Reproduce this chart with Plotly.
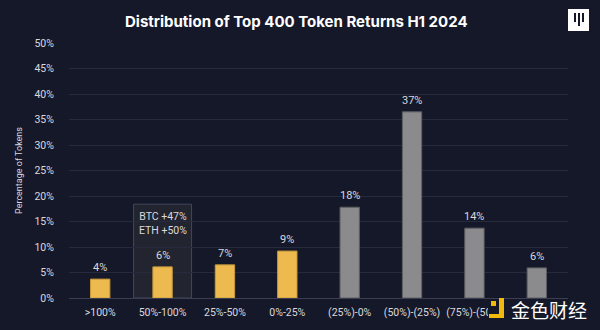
import plotly.graph_objects as go

categories = [">100%", "50%-100%", "25%-50%", "0%-25%",
              "(25%)-0%", "(50%)-(25%)", "(75%)-(50%)", "(100%)-(75%)"]
# the last category label is hidden under the watermark in the reference
x_tick_text = [">100%", "50%-100%", "25%-50%", "0%-25%",
               "(25%)-0%", "(50%)-(25%)", "(75%)-(50%)", ""]
values = [3.7, 6.1, 6.5, 9.2, 17.8, 36.5, 13.7, 5.9]
labels = ["4%", "6%", "7%", "9%", "18%", "37%", "14%", "6%"]
positive = [True, True, True, True, False, False, False, False]
y_ticks = [0, 5, 10, 15, 20, 25, 30, 35, 40, 45, 50]
y_tick_text = [f"{v}%" for v in y_ticks]
note_lines = ["BTC +47%", "ETH +50%"]
note_top = 18.4

BG = "#151829"
GRID = "#252a3c"
TXT = "#d9d9de"
YELLOW = "#ecba4f"
GREY = "#8b8b8d"
FONT = "Roboto"

L, R, T, B = 69, 32, 43, 32
W, H = 600, 330
pw, ph = W - L - R, H - T - B


def px(x):
    return (x - L) / pw


def py(y):
    return (H - B - y) / ph


colors = [YELLOW if p else GREY for p in positive]
line_colors = ["#c99a3a" if p else "#5e5e62" for p in positive]

fig = go.Figure()
fig.add_trace(go.Bar(
    x=categories, y=values,
    marker=dict(color=colors, line=dict(color=line_colors, width=1)),
    width=0.31, hoverinfo="skip",
))

annotations = []
for c, v, t in zip(categories, values, labels):
    annotations.append(dict(x=c, y=v, text=t, showarrow=False, yanchor="bottom",
                            yshift=3, font=dict(size=11, color=TXT, family=FONT)))

annotations.append(dict(x=1, y=note_top, text="<br>".join(note_lines), showarrow=False,
                        yanchor="top", yshift=-4,
                        font=dict(size=10.5, color=TXT, family=FONT)))

annotations.append(dict(xref="paper", yref="paper", x=px(123), y=py(21), xanchor="left",
                        yanchor="middle", text="<b>Distribution of Top 400 Token Returns H1 2024</b>",
                        showarrow=False, font=dict(size=15, color="#ffffff", family="Inter")))

annotations.append(dict(xref="paper", yref="paper", x=px(549), y=py(309), xanchor="center",
                        yanchor="middle", text="金色财经", showarrow=False,
                        font=dict(size=19, color="#ffffff", family="Noto Sans CJK SC")))

shapes = [
    dict(type="rect", xref="x", yref="y", x0=0.535, x1=1.465, y0=0, y1=note_top,
         fillcolor="#22242f", line=dict(color="#44475a", width=1), layer="below"),
    # cover for watermark
    dict(type="rect", xref="paper", yref="paper", x0=px(488), x1=px(600), y0=py(299), y1=py(325),
         fillcolor=BG, line=dict(width=0), layer="above"),
    # watermark icon
    dict(type="rect", xref="paper", yref="paper", x0=px(499), x1=px(504), y0=py(318), y1=py(298),
         fillcolor="#f0b90b", line=dict(width=0), layer="above"),
    dict(type="rect", xref="paper", yref="paper", x0=px(489), x1=px(504), y0=py(318), y1=py(314),
         fillcolor="#f0b90b", line=dict(width=0), layer="above"),
    dict(type="rect", xref="paper", yref="paper", x0=px(491), x1=px(496), y0=py(306), y1=py(301),
         fillcolor="#f0b90b", line=dict(width=0), layer="above"),
    # top-right logo
    dict(type="rect", xref="paper", yref="paper", x0=px(568), x1=px(589), y0=py(31), y1=py(9),
         fillcolor="#ffffff", line=dict(width=0), layer="above"),
    dict(type="rect", xref="paper", yref="paper", x0=px(574), x1=px(576), y0=py(22), y1=py(13),
         fillcolor="#151829", line=dict(width=0), layer="above"),
    dict(type="rect", xref="paper", yref="paper", x0=px(578), x1=px(580), y0=py(26), y1=py(13),
         fillcolor="#151829", line=dict(width=0), layer="above"),
    dict(type="rect", xref="paper", yref="paper", x0=px(582), x1=px(584), y0=py(22), y1=py(13),
         fillcolor="#151829", line=dict(width=0), layer="above"),
]

fig.update_layout(
    width=W, height=H,
    margin=dict(l=L, r=R, t=T, b=B),
    paper_bgcolor=BG, plot_bgcolor=BG,
    showlegend=False,
    annotations=annotations,
    shapes=shapes,
    font=dict(family=FONT, color=TXT),
)
fig.update_xaxes(
    type="category", range=[-0.5, len(categories) - 0.5],
    tickvals=categories, ticktext=x_tick_text,
    showgrid=False, showline=True, linecolor="#3a3e50", linewidth=1,
    ticks="outside", ticklen=4, tickcolor="rgba(0,0,0,0)",
    tickangle=0, automargin=False,
    tickfont=dict(size=10.5, color=TXT, family=FONT),
)
fig.update_yaxes(
    range=[0, 50], tickvals=y_ticks, ticktext=y_tick_text,
    showgrid=True, gridcolor=GRID, gridwidth=1, zeroline=False,
    ticks="outside", ticklen=12, tickcolor="rgba(0,0,0,0)", automargin=False,
    tickfont=dict(size=10.5, color=TXT, family=FONT),
    title=dict(text="Percentage of Tokens", font=dict(size=9, color=TXT, family=FONT), standoff=10),
)

fig.write_html("out.html", config={"displayModeBar": False})
